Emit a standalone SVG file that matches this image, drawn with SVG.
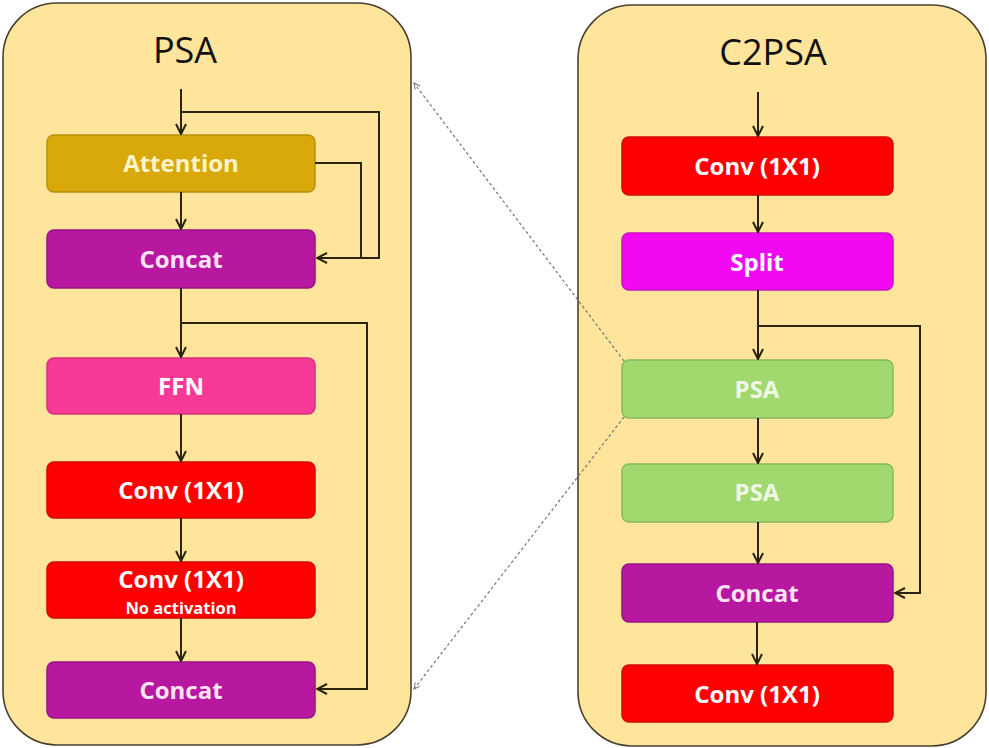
<svg xmlns="http://www.w3.org/2000/svg" width="989" height="748" viewBox="0 0 989 748">
  <style>
    .panel { fill: #FFE49B; stroke: #4a4030; stroke-width: 1.6; }
    .title { font-family: "Open Sans", "Liberation Sans", sans-serif; font-size: 36px; fill: #111; text-anchor: middle; }
    .box { stroke-width: 1.5; }
    .lbl { font-family: "Open Sans", "Liberation Sans", sans-serif; font-weight: bold; font-size: 24px; fill: #fff; text-anchor: middle; }
    .sub { font-size: 16.5px; }
    .wire { fill: none; stroke: #2a2312; stroke-width: 2; }
    .zoomline { fill: none; stroke: #777; stroke-width: 1.2; stroke-dasharray: 3 2.5; }
    .att { fill: #D9A80A; stroke: #B8900A; }
    .cat { fill: #B8179F; stroke: #961585; }
    .ffn { fill: #F73A98; stroke: #D8307F; }
    .conv { fill: #FF0000; stroke: #D40808; }
    .split { fill: #F10AF1; stroke: #C810C8; }
    .psa { fill: #A2D96E; stroke: #86B85A; }
  </style>
  <defs>
    <marker id="arr" viewBox="0 0 12 12" refX="11" refY="6" markerWidth="12" markerHeight="12" markerUnits="userSpaceOnUse" orient="auto">
      <path d="M1,1 L11,6 L1,11" fill="none" stroke="#2a2312" stroke-width="2"/>
    </marker>
    <marker id="tip" viewBox="0 0 8 8" refX="7" refY="4" markerWidth="8" markerHeight="8" markerUnits="userSpaceOnUse" orient="auto">
      <path d="M1,1 L7,4 L1,7" fill="none" stroke="#777" stroke-width="1"/>
    </marker>
  </defs>

  <!-- panels -->
  <g id="panel-psa">
    <rect class="panel" x="3" y="3" width="408" height="742" rx="54"/>
    <text class="title" x="185" y="63">PSA</text>
  </g>
  <g id="panel-c2psa">
    <rect class="panel" x="578" y="5" width="408" height="741" rx="54"/>
    <text class="title" x="773" y="65">C2PSA</text>
  </g>

  <!-- PSA block nodes -->
  <g id="psa-attention">
    <rect class="box att" x="47" y="135" width="268" height="57" rx="7"/>
    <text class="lbl" x="181" y="172" style="fill:#FFF4C8">Attention</text>
  </g>
  <g id="psa-concat1">
    <rect class="box cat" x="47" y="230" width="268" height="58" rx="7"/>
    <text class="lbl" x="181" y="268" style="fill:#FCE3F7">Concat</text>
  </g>
  <g id="psa-ffn">
    <rect class="box ffn" x="47" y="358" width="268" height="56" rx="7"/>
    <text class="lbl" x="181" y="395">FFN</text>
  </g>
  <g id="psa-conv1">
    <rect class="box conv" x="47" y="462" width="268" height="56" rx="7"/>
    <text class="lbl" x="181" y="499">Conv (1X1)</text>
  </g>
  <g id="psa-conv2">
    <rect class="box conv" x="47" y="562" width="268" height="56" rx="7"/>
    <text class="lbl" x="181" y="588">Conv (1X1)</text>
    <text class="lbl sub" x="181" y="614">No activation</text>
  </g>
  <g id="psa-concat2">
    <rect class="box cat" x="47" y="662" width="268" height="56" rx="7"/>
    <text class="lbl" x="181" y="699" style="fill:#FCE3F7">Concat</text>
  </g>

  <!-- C2PSA block nodes -->
  <g id="c2psa-conv-in">
    <rect class="box conv" x="622" y="137" width="271" height="58" rx="7"/>
    <text class="lbl" x="757" y="175">Conv (1X1)</text>
  </g>
  <g id="c2psa-split">
    <rect class="box split" x="622" y="233" width="271" height="57" rx="7"/>
    <text class="lbl" x="757" y="271">Split</text>
  </g>
  <g id="c2psa-psa1">
    <rect class="box psa" x="622" y="360" width="271" height="58" rx="7"/>
    <text class="lbl" x="757" y="398" style="fill:#EEF8E4">PSA</text>
  </g>
  <g id="c2psa-psa2">
    <rect class="box psa" x="622" y="464" width="271" height="58" rx="7"/>
    <text class="lbl" x="757" y="501" style="fill:#EEF8E4">PSA</text>
  </g>
  <g id="c2psa-concat">
    <rect class="box cat" x="622" y="564" width="271" height="58" rx="7"/>
    <text class="lbl" x="757" y="602" style="fill:#FCE3F7">Concat</text>
  </g>
  <g id="c2psa-conv-out">
    <rect class="box conv" x="622" y="665" width="271" height="57" rx="7"/>
    <text class="lbl" x="757" y="703">Conv (1X1)</text>
  </g>

  <!-- connectors -->
  <g id="connectors">
    <!-- PSA block -->
    <path class="wire" d="M181,89 V134" marker-end="url(#arr)"/>
    <path class="wire" d="M181,112 H379 V258 H317" marker-end="url(#arr)"/>
    <path class="wire" d="M315,163 H361 V258"/>
    <path class="wire" d="M181,192 V229" marker-end="url(#arr)"/>
    <path class="wire" d="M181,288 V357" marker-end="url(#arr)"/>
    <path class="wire" d="M181,323 H367 V689 H317" marker-end="url(#arr)"/>
    <path class="wire" d="M181,414 V461" marker-end="url(#arr)"/>
    <path class="wire" d="M181,518 V561" marker-end="url(#arr)"/>
    <path class="wire" d="M181,618 V661" marker-end="url(#arr)"/>

    <!-- C2PSA block -->
    <path class="wire" d="M758,92 V136" marker-end="url(#arr)"/>
    <path class="wire" d="M758,195 V232" marker-end="url(#arr)"/>
    <path class="wire" d="M758,290 V359" marker-end="url(#arr)"/>
    <path class="wire" d="M758,326 H920 V593 H895" marker-end="url(#arr)"/>
    <path class="wire" d="M758,418 V463" marker-end="url(#arr)"/>
    <path class="wire" d="M758,522 V563" marker-end="url(#arr)"/>
    <path class="wire" d="M757,622 V664" marker-end="url(#arr)"/>

    <!-- zoom-out guides from the PSA node to the expanded panel -->
    <path class="zoomline" d="M624,361 L414,83" marker-end="url(#tip)"/>
    <path class="zoomline" d="M624,417 L414,689" marker-end="url(#tip)"/>
  </g>
</svg>
